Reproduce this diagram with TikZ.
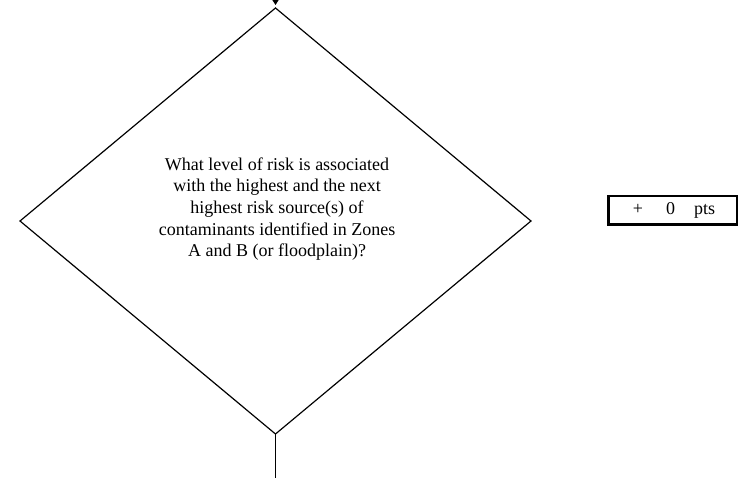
\documentclass[tikz,border=0pt]{standalone}
\usepackage{fontspec}
\setmainfont{Liberation Serif}
\usetikzlibrary{shapes.geometric,arrows.meta}
\begin{document}
\begin{tikzpicture}[x=1pt,y=1pt,
  dia/.style={draw, shape=diamond, minimum width=511pt, minimum height=426pt, inner sep=0pt, outer sep=0pt, line width=1.2pt},
  qtext/.style={align=center, font=\fontsize{18}{21.6}\selectfont, inner sep=0pt},
  ptsbox/.style={draw, line width=2.5pt, minimum width=128.5pt, minimum height=28.5pt, inner sep=0pt, outer sep=0pt, font=\fontsize{18}{21.6}\selectfont},
  conn/.style={line width=1.2pt}]
\useasboundingbox (0,0) rectangle (746,477);
\node[dia] (d) at (275.5,256) {};
\node[qtext] (q) at (277,268) {What level of risk is associated\\with the highest and the next\\highest risk source(s) of\\contaminants identified in Zones\\A and B (or floodplain)?};
\node[ptsbox] (p) at (672.5,266.5) {\hspace{3pt}+\hspace{23pt}0\hspace{19pt}pts};
\coordinate (top) at (275.5,495);
\coordinate (bot) at (275.5,-5);
\draw[conn, -{Triangle[width=6pt,length=5pt]}, shorten >=3pt] (top) -- (d.north);
\draw[conn] (d.south) -- (bot);
\end{tikzpicture}
\end{document}
